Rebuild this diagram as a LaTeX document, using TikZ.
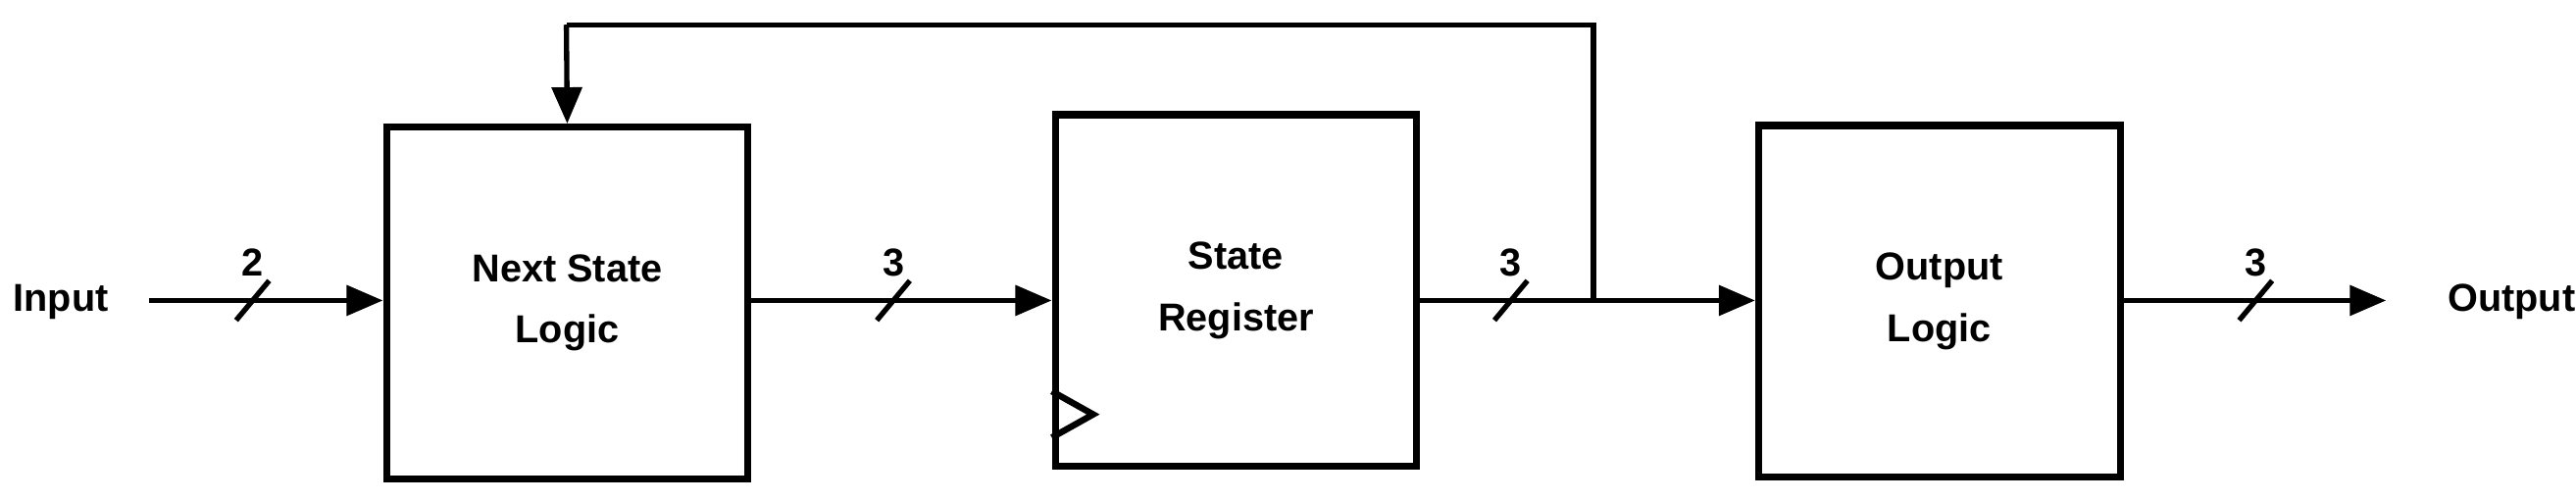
\documentclass[tikz,border=0pt]{standalone}
\usepackage{fontspec}
\setmainfont{Liberation Sans}
\usetikzlibrary{arrows.meta}
\begin{document}
\begin{tikzpicture}[x=0.1mm,y=-0.1mm,
  blk/.style={draw,line width=1.2pt,minimum width=21.9mm,minimum height=21.3mm,font=\bfseries\fontsize{6.7}{10.5}\selectfont,align=center,inner sep=0},
  wire/.style={line width=0.9pt},
  arr/.style={wire,-{Triangle[length=2.2mm,width=1.8mm]}},
  lbl/.style={font=\bfseries\fontsize{6.7}{9}\selectfont},
  bus/.style={wire}]
\useasboundingbox (0,0) rectangle (1560,304);
\node[blk] (nsl) at (343.5,183.5) {Next State\\Logic};
\node[blk] (sr) at (748.5,176) {State\\Register};
\node[blk] (ol) at (1174.5,182.5) {Output\\Logic};
\node[lbl,anchor=east] (in) at (78,183) {Input};
\node[lbl,anchor=west] (out) at (1470,183) {Output};
\coordinate (a) at (90,182);
\coordinate (fb) at (965,182);
\coordinate (oe) at (1445,182);
\draw[arr] (a) -- (a -| nsl.west);
\draw[arr] (nsl.east |- 0,182) -- (sr.west |- 0,182);
\draw[arr] (sr.east |- 0,182) -- (ol.west |- 0,182);
\draw[arr] (ol.east |- 0,182) -- (oe);
\draw[wire] (fb) -- (965,15) -- (343,15);
\draw[arr] (343,15) -- (nsl.north);
\draw[line width=1.1pt] (637,237) -- (662,251) -- (637,265);
\foreach \x/\t in {153/2,541/3,915/3,1366/3}{
  \draw[wire] (\x-10,194) -- (\x+10,170);
  \node[lbl] at (\x,159) {\t};
}
\end{tikzpicture}
\end{document}
